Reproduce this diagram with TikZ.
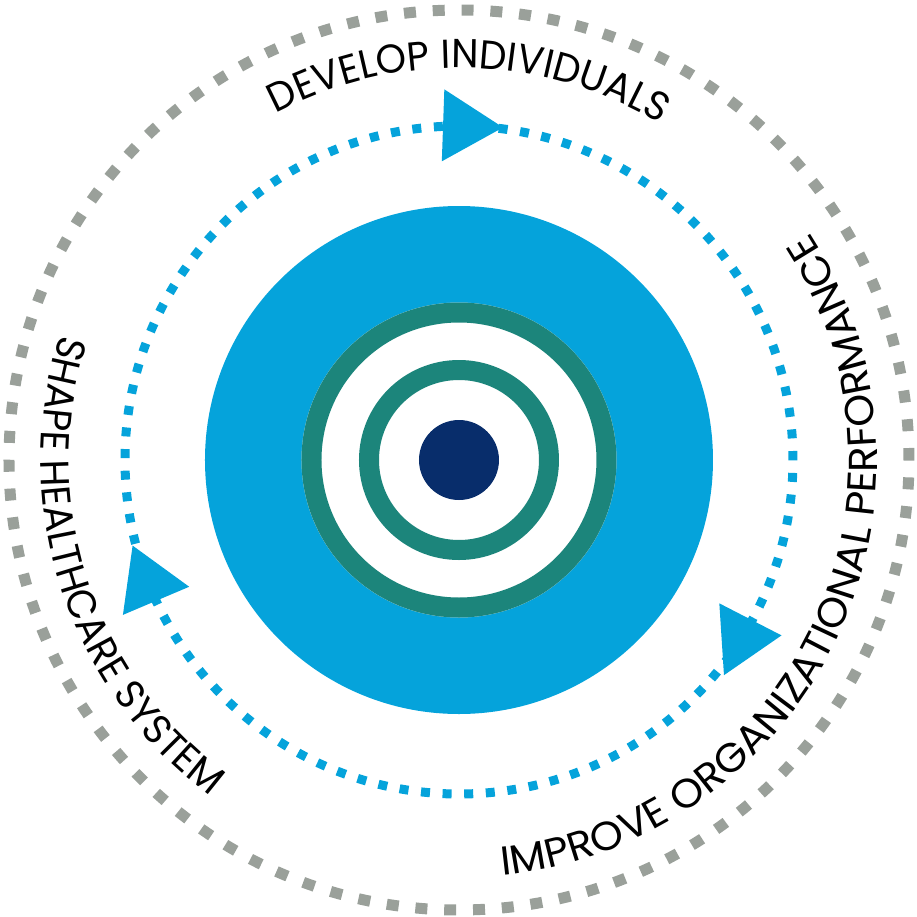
\documentclass[tikz,border=0pt]{standalone}
\usepackage{fontspec}
\newfontfamily\ringfont{Poppins}
\usetikzlibrary{decorations.text}

\definecolor{ringgray}{RGB}{154,160,154}
\definecolor{cycleblue}{RGB}{5,163,219}
\definecolor{targetteal}{RGB}{28,133,123}
\definecolor{targetnavy}{RGB}{8,45,107}

\begin{document}
\begin{tikzpicture}[outer ring/.style={draw=ringgray,line width=1.1mm,dash pattern=on 1.2mm off 1.685mm},
  cycle ring/.style={draw=cycleblue,line width=.9mm,dash pattern=on .9mm off 1.2635mm},
  ring label/.style 2 args={decorate,decoration={text along path,text align=center,
    text={|\ringfont\addfontfeature{FakeStretch=#1}\fontsize{11.5}{13}\selectfont|#2}}}]
\useasboundingbox (-4.59,-4.57) rectangle (4.58,4.60);
% target in the middle
\fill[cycleblue] (0,0) circle[radius=2.54];
\fill[white] (0,0) circle[radius=1.575];
\draw[targetteal,line width=2mm] (0,0) circle[radius=1.475] (0,0) circle[radius=.9];
\fill[targetnavy] (0,0) circle[radius=.4];
% the two rings and the three arrow heads
\draw[outer ring] (0,0) circle[radius=4.5];
\draw[cycle ring] (0,0) circle[radius=3.34];
\foreach \a/\t in {89.3/-2, 201.5/113, -32.2/3.7}
  \fill[cycleblue,shift={(\a:3.34)},rotate=\t] (.4,0) -- (-.2,.36) -- (-.2,-.36) -- cycle;
% labels round the cycle
\path[ring label={.96}{DEVELOP INDIVIDUALS}] (128.5:3.92) arc[start angle=128.5,end angle=48.5,radius=3.92];
\path[ring label={.96}{SHAPE HEALTHCARE SYSTEM}] (148:4.18) arc[start angle=148,end angle=248,radius=4.18];
\path[ring label={1.04}{IMPROVE ORGANIZATIONAL PERFORMANCE}] (-92:4.18) arc[start angle=-92,end angle=41,radius=4.18];
\end{tikzpicture}
\end{document}
